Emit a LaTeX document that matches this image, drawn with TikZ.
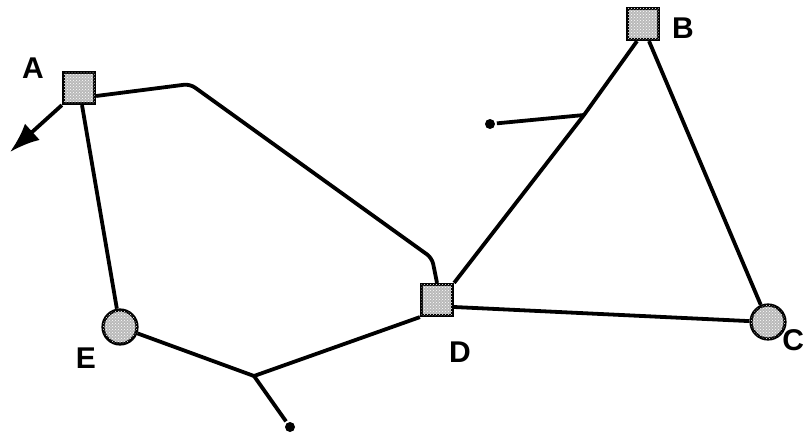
\documentclass[tikz,border=0pt]{standalone}
\usepackage{fontspec}
\setmainfont{Liberation Sans}
\usetikzlibrary{arrows.meta,patterns}
\begin{document}
\begin{tikzpicture}[x=1pt,y=-1pt,
  line width=3.8pt,
  sq/.style={draw,line width=3.2pt,fill=gray!55,minimum size=31pt,inner sep=0pt,
    postaction={pattern=crosshatch dots,pattern color=white}},
  rd/.style={draw,line width=3.2pt,circle,fill=gray!55,minimum size=34pt,inner sep=0pt,
    postaction={pattern=crosshatch dots,pattern color=white}},
  lab/.style={font=\bfseries\fontsize{30}{30}\selectfont,inner sep=0pt},
  endpt/.style={circle,fill=black,minimum size=10pt,inner sep=0pt}]
\useasboundingbox (0,0) rectangle (806,439);
\fill[white] (0,0) rectangle (806,439);
% nodes
\node[sq] (A) at (79,88) {};
\node[sq] (B) at (643,24) {};
\node[sq] (D) at (437,300) {};
\node[rd] (E) at (120,327) {};
\node[rd] (C) at (768,322) {};
\node[lab] (la) at (33,68) {A};
\node[lab] (lb) at (683,28) {B};
\node[lab] (ld) at (460,352) {D};
\node[lab] (le) at (86,358) {E};
\node[lab,anchor=east] (lc) at (806,340) {C};
% helper points
\coordinate (a1) at (190,84);
\coordinate (a2) at (432,258);
\coordinate (arr) at (10,152);
\coordinate (j1) at (584,115);
\node[endpt] (p1) at (490,124) {};
\coordinate (j2) at (254,376);
\node[endpt] (p2) at (290,427) {};
% connectors
\draw[rounded corners=6pt] ([yshift=-8pt]A.east) -- (a1) -- (a2) -- (D.north);
\draw[-{Latex[length=30pt,width=22pt]}] (A.south west) -- (arr);
\draw ([xshift=3pt]A.south) -- (E);
\draw ([xshift=-6pt]B.south) -- (j1) -- (D.north east);
\draw (j1) -- (p1);
\draw ([xshift=6pt]B.south) -- (C);
\draw ([yshift=-7pt]D.east) -- (C);
\draw (E) -- (j2) -- (D.south west);
\draw (j2) -- (p2);
\end{tikzpicture}
\end{document}
